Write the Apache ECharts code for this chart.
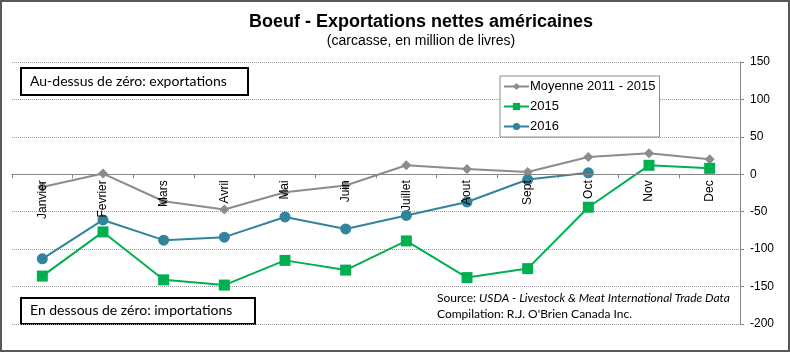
<!DOCTYPE html>
<html>
<head>
<meta charset="utf-8">
<script src="https://cdn.jsdelivr.net/npm/echarts@6/dist/echarts.min.js"></script>
<style>
  html, body { margin: 0; padding: 0; background: #fff; }
  #chart { width: 790px; height: 352px; box-sizing: border-box; }
</style>
</head>
<body>
<div id="chart"></div>
<script>
// data
const months = ['Janvier', 'Fevrier', 'Mars', 'Avril', 'Mai', 'Juin', 'Juillet', 'Aout', 'Sept', 'Oct', 'Nov', 'Dec'];
const moyenne = [-17, 1, -36, -47, -24, -15, 12, 7, 3, 23, 28, 20];
const y2015 = [-136, -77, -141, -148, -115, -128, -89, -138, -126, -44, 12, 8];
const y2016 = [-113, -61, -88, -84, -57, -73, -55, -37, -7, 2];
const yTicks = { min: -200, max: 150, step: 50 };

const gridTop = 62, gridBottom = 28, chartH = 352;
// the month axis sits on the zero line: shift it up from the grid bottom
const plotH = chartH - gridTop - gridBottom;
const zeroOffset = -plotH * (0 - yTicks.min) / (yTicks.max - yTicks.min);

const myChart = echarts.init(document.getElementById('chart'));

const boxText = {
  fontFamily: 'Lato, "Open Sans", sans-serif',
  fontSize: 14,
  fill: '#000'
};

const option = {
  animation: false,
  title: {
    text: 'Boeuf - Exportations nettes américaines',
    subtext: '(carcasse, en million de livres)',
    left: 416,
    textAlign: 'center',
    top: 8,
    itemGap: 3,
    textStyle: { fontFamily: '"Liberation Sans Narrow", "Liberation Sans", Arial', fontSize: 18, fontWeight: 'bold', color: '#000' },
    subtextStyle: { fontFamily: '"Liberation Sans Narrow", "Liberation Sans", Arial', fontSize: 14, color: '#000' }
  },
  legend: {
    orient: 'vertical',
    left: 500,
    top: 76,
    padding: [4, 4, 4, 3],
    itemGap: 7,
    itemWidth: 25,
    itemHeight: 9,
    backgroundColor: '#fff',
    borderColor: '#8c8c8c',
    borderWidth: 1,
    textStyle: { fontFamily: '"Liberation Sans", Arial', fontSize: 13, color: '#000', padding: [0, 0, 0, -4] },
    data: ['Moyenne 2011 - 2015', '2015', '2016']
  },
  grid: { left: 12, right: 50, top: gridTop, bottom: gridBottom, outerBoundsMode: 'none', containLabel: false },
  xAxis: {
    type: 'category',
    data: months,
    boundaryGap: true,
    offset: zeroOffset,
    z: 10,
    axisLine: { onZero: false, lineStyle: { color: '#868686', width: 1 } },
    axisTick: { show: true, length: 4, lineStyle: { color: '#868686' } },
    axisLabel: { rotate: 90, color: '#000', fontFamily: '"Liberation Sans", Arial', fontSize: 12, margin: 6, interval: 0 }
  },
  yAxis: {
    type: 'value',
    position: 'right',
    min: yTicks.min,
    max: yTicks.max,
    interval: yTicks.step,
    axisLine: { show: true, lineStyle: { color: '#868686' } },
    axisTick: { show: true, length: 4, lineStyle: { color: '#868686' } },
    axisLabel: { color: '#000', fontFamily: '"Liberation Sans", Arial', fontSize: 12, margin: 10 },
    splitLine: { show: true, lineStyle: { color: '#9a9a9a', type: [1, 1], width: 1 } }
  },
  series: [
    {
      name: 'Moyenne 2011 - 2015',
      type: 'line',
      data: moyenne,
      symbol: 'diamond',
      symbolSize: 10,
      itemStyle: { color: '#8c8c8c' },
      lineStyle: { color: '#8c8c8c', width: 2 },
      z: 3
    },
    {
      name: '2015',
      type: 'line',
      data: y2015,
      symbol: 'rect',
      symbolSize: 11,
      itemStyle: { color: '#00b050' },
      lineStyle: { color: '#00b050', width: 2 },
      z: 4
    },
    {
      name: '2016',
      type: 'line',
      data: y2016,
      symbol: 'circle',
      symbolSize: 11,
      itemStyle: { color: '#31849b' },
      lineStyle: { color: '#31849b', width: 2 },
      z: 5
    }
  ],
  graphic: [
    // frame round the whole picture
    { type: 'rect', shape: { x: 1, y: 1, width: 788, height: 350 }, style: { fill: 'none', stroke: '#595959', lineWidth: 2 }, silent: true },
    {
      type: 'group', left: 20, top: 67, children: [
        { type: 'rect', shape: { x: 0, y: 0, width: 227, height: 27 }, style: { fill: '#fff', stroke: '#000', lineWidth: 2 } },
        { type: 'text', x: 9, y: 6, style: Object.assign({ text: 'Au-dessus de zéro: exportations' }, boxText) }
      ]
    },
    {
      type: 'group', left: 20, top: 297, children: [
        { type: 'rect', shape: { x: 0, y: 0, width: 234, height: 26 }, style: { fill: '#fff', stroke: '#000', lineWidth: 2 } },
        { type: 'text', x: 9, y: 5, style: Object.assign({ text: 'En dessous de zéro: importations' }, boxText) }
      ]
    },
    {
      type: 'text', left: 437, top: 292,
      style: {
        text: '{n|Source: }{i|USDA - Livestock & Meat International Trade Data}\n{n|Compilation: R.J. O\'Brien Canada Inc.}',
        rich: {
          n: { fontFamily: 'Lato, "Open Sans", sans-serif', fontSize: 12, lineHeight: 16, fill: '#000' },
          i: { fontFamily: 'Lato, "Open Sans", sans-serif', fontSize: 12, fontStyle: 'italic', lineHeight: 16, fill: '#000' }
        }
      }
    }
  ]
};

myChart.setOption(option);
</script>
</body>
</html>
